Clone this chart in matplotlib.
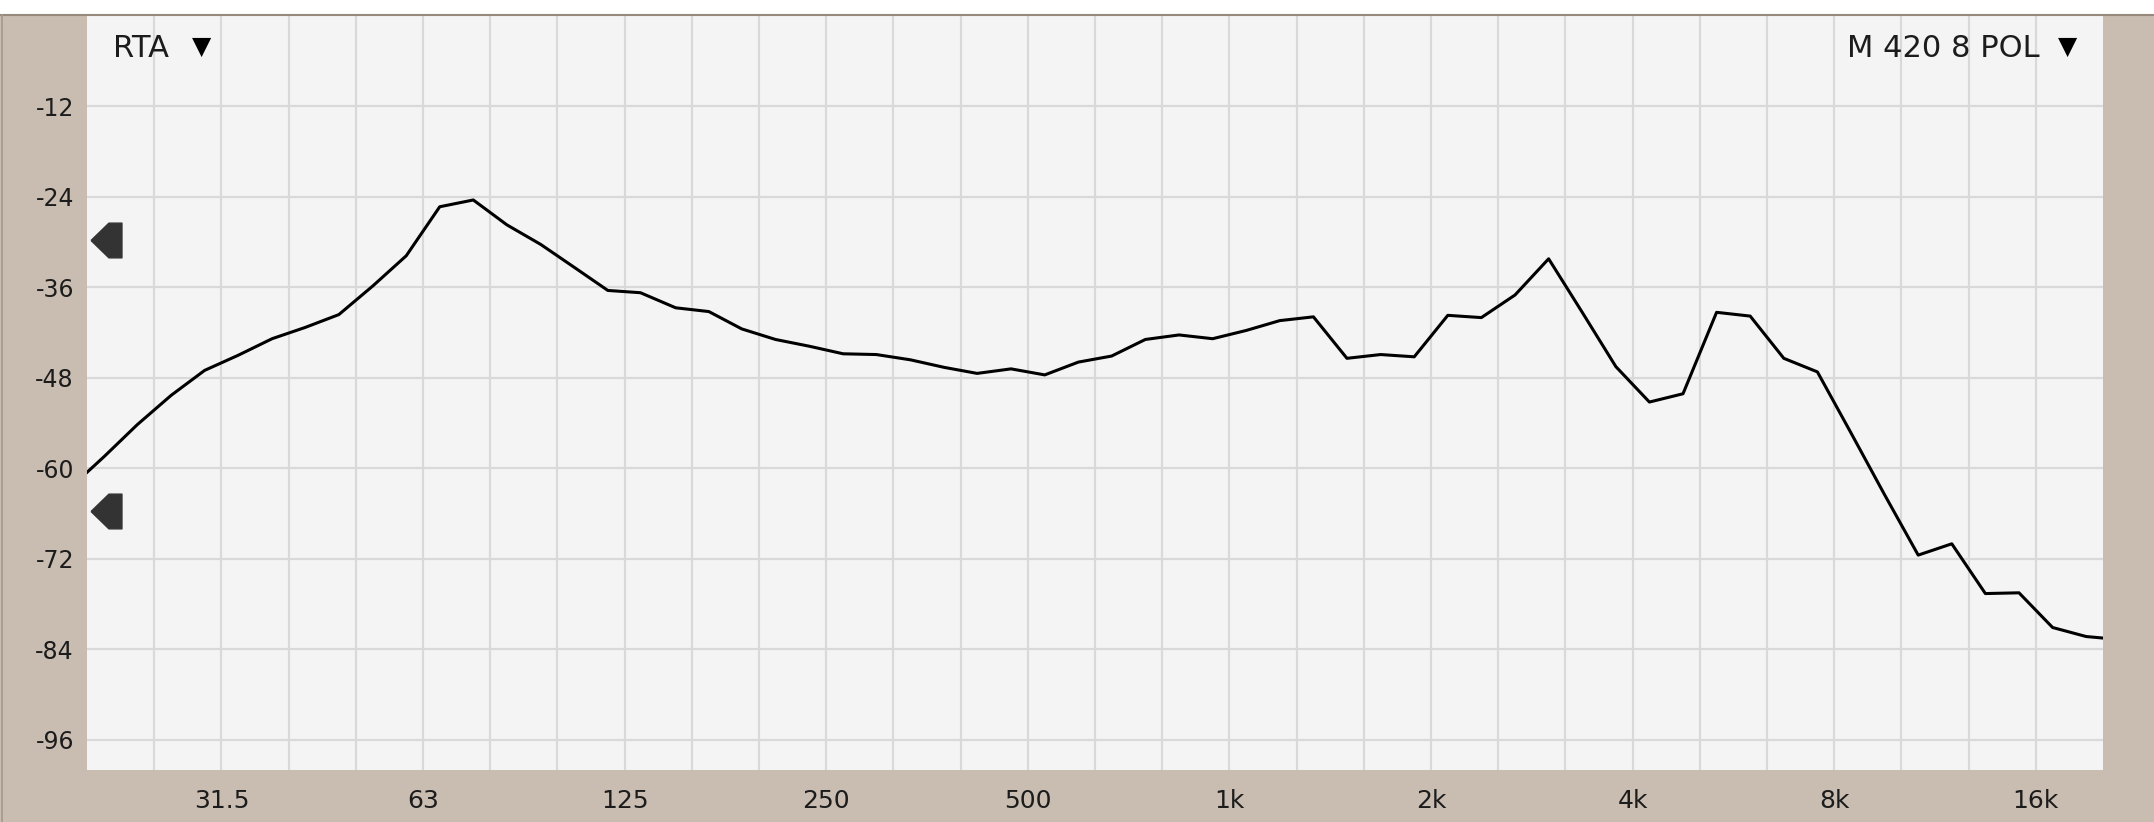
import matplotlib

matplotlib.use("Agg")
import matplotlib.pyplot as plt
from matplotlib.path import Path
from matplotlib.lines import Line2D
from matplotlib.patches import Rectangle

# ── data: 1/6-octave RTA trace (Hz, dB) ──
FREQS_HZ = [
    19.7, 20.9, 23.4, 26.3, 29.5, 33.1, 37.2, 41.7, 46.8, 52.6, 59.0,
    66.2, 74.3, 83.4, 93.7, 105, 118, 132, 149, 167, 187,
    210, 236, 265, 297, 334, 375, 420, 472, 530, 595,
    667, 749, 841, 944, 1060, 1189, 1335, 1498, 1682, 1888,
    2119, 2378, 2670, 2997, 3364, 3776, 4238, 4757, 5339, 5993,
    6727, 7551, 8476, 9514, 10679, 11986, 13454, 15102, 16951, 19027,
    20159,
]
LEVELS_DB = [
    -60.5, -58.4, -54.2, -50.3, -47.0, -45.0, -42.8, -41.3, -39.6, -35.8, -31.8,
    -25.3, -24.4, -27.7, -30.3, -33.3, -36.4, -36.7, -38.7, -39.2, -41.5,
    -42.9, -43.8, -44.8, -44.9, -45.6, -46.6, -47.4, -46.8, -47.6, -45.9,
    -45.1, -42.9, -42.3, -42.8, -41.7, -40.4, -39.9, -45.4, -44.9, -45.2,
    -39.7, -40.0, -37.0, -32.2, -39.3, -46.5, -51.2, -50.1, -39.3, -39.8,
    -45.4, -47.2, -55.3, -63.5, -71.5, -70.0, -76.6, -76.5, -81.1, -82.3,
    -82.5,
]

X_LABELS = ["31.5", "63", "125", "250", "500", "1k", "2k", "4k", "8k", "16k"]
X_LABEL_STEPS = [-15, -12, -9, -6, -3, 0, 3, 6, 9, 12]  # third-octaves from 1 kHz
Y_TICKS = [-12, -24, -36, -48, -60, -72, -84, -96]
MARKER_LEVELS = [-29.7, -65.7]

LEFT_LABEL = "RTA"
RIGHT_LABEL = "M 420 8 POL"

FRAME = "#C9BDB1"
PLOT_BG = "#F4F4F4"
GRID = "#D9D9D9"
TEXT = "#1C1C1C"

W, H = 2154, 822
fig = plt.figure(figsize=(W / 100, H / 100), dpi=100)
fig.patch.set_facecolor(FRAME)

# plot area in pixels
x0, x1, y0, y1 = 87, 2103, 16, 770
ax = fig.add_axes([x0 / W, 1 - y1 / H, (x1 - x0) / W, (y1 - y0) / H])
ax.set_facecolor(PLOT_BG)
for s in ax.spines.values():
    s.set_visible(False)

third = lambda k: 1000.0 * 2 ** (k / 3.0)
ax.set_xscale("log", base=2)
ax.set_xlim(third(-17), third(13))
ax.set_ylim(-100, 0)

# grid: every third-octave, every 12 dB
for k in range(-16, 13):
    ax.axvline(third(k), color=GRID, lw=1.6, zorder=1)
for yv in Y_TICKS:
    ax.axhline(yv, color=GRID, lw=1.6, zorder=1)

ax.set_xticks([third(k) for k in X_LABEL_STEPS])
ax.set_xticklabels(X_LABELS)
ax.xaxis.set_minor_locator(matplotlib.ticker.NullLocator())
ax.set_yticks(Y_TICKS)
ax.set_yticklabels([str(v) for v in Y_TICKS])
ax.tick_params(axis="x", length=0, pad=13.5, labelsize=18, labelcolor=TEXT)
ax.tick_params(axis="y", length=0, pad=9.4, labelsize=17, labelcolor=TEXT)

ax.plot(FREQS_HZ, LEVELS_DB, color="black", lw=2.2, zorder=3,
        solid_joinstyle="round", clip_on=True)

# level markers on left edge
arrow = Path([(-0.89, 0), (0.14, 1), (0.89, 1), (0.89, -1), (0.14, -1), (-0.89, 0)])
for lv in MARKER_LEVELS:
    ax.plot([(105.5 - x0) / (x1 - x0)], [lv], marker=arrow, markersize=25,
            color="#333333", mec="#333333", transform=ax.get_yaxis_transform(),
            clip_on=False, zorder=4)

# top white strip + frame lines
fig.add_artist(Rectangle((0, 1 - 14 / H), 1, 14 / H, transform=fig.transFigure,
                         facecolor="white", edgecolor="none"))
fig.add_artist(Line2D([0, 1], [1 - 15 / H] * 2, transform=fig.transFigure,
                      color="#978A7C", lw=1.5))
fig.add_artist(Line2D([2.5 / W] * 2, [0, 1 - 15 / H], transform=fig.transFigure,
                      color="#A59889", lw=1.2))

# header labels
fig.text(113 / W, 1 - 57 / H, LEFT_LABEL, fontsize=22, color=TEXT,
         ha="left", va="baseline")
fig.text(202 / W, 1 - 47 / H, "\u25BC", fontsize=18, color="black",
         ha="center", va="center")
fig.text(2040 / W, 1 - 57 / H, RIGHT_LABEL, fontsize=22, color=TEXT,
         ha="right", va="baseline")
fig.text(2067.5 / W, 1 - 47 / H, "\u25BC", fontsize=18, color="black",
         ha="center", va="center")

fig.savefig("out.png", dpi=100, facecolor=fig.get_facecolor())
